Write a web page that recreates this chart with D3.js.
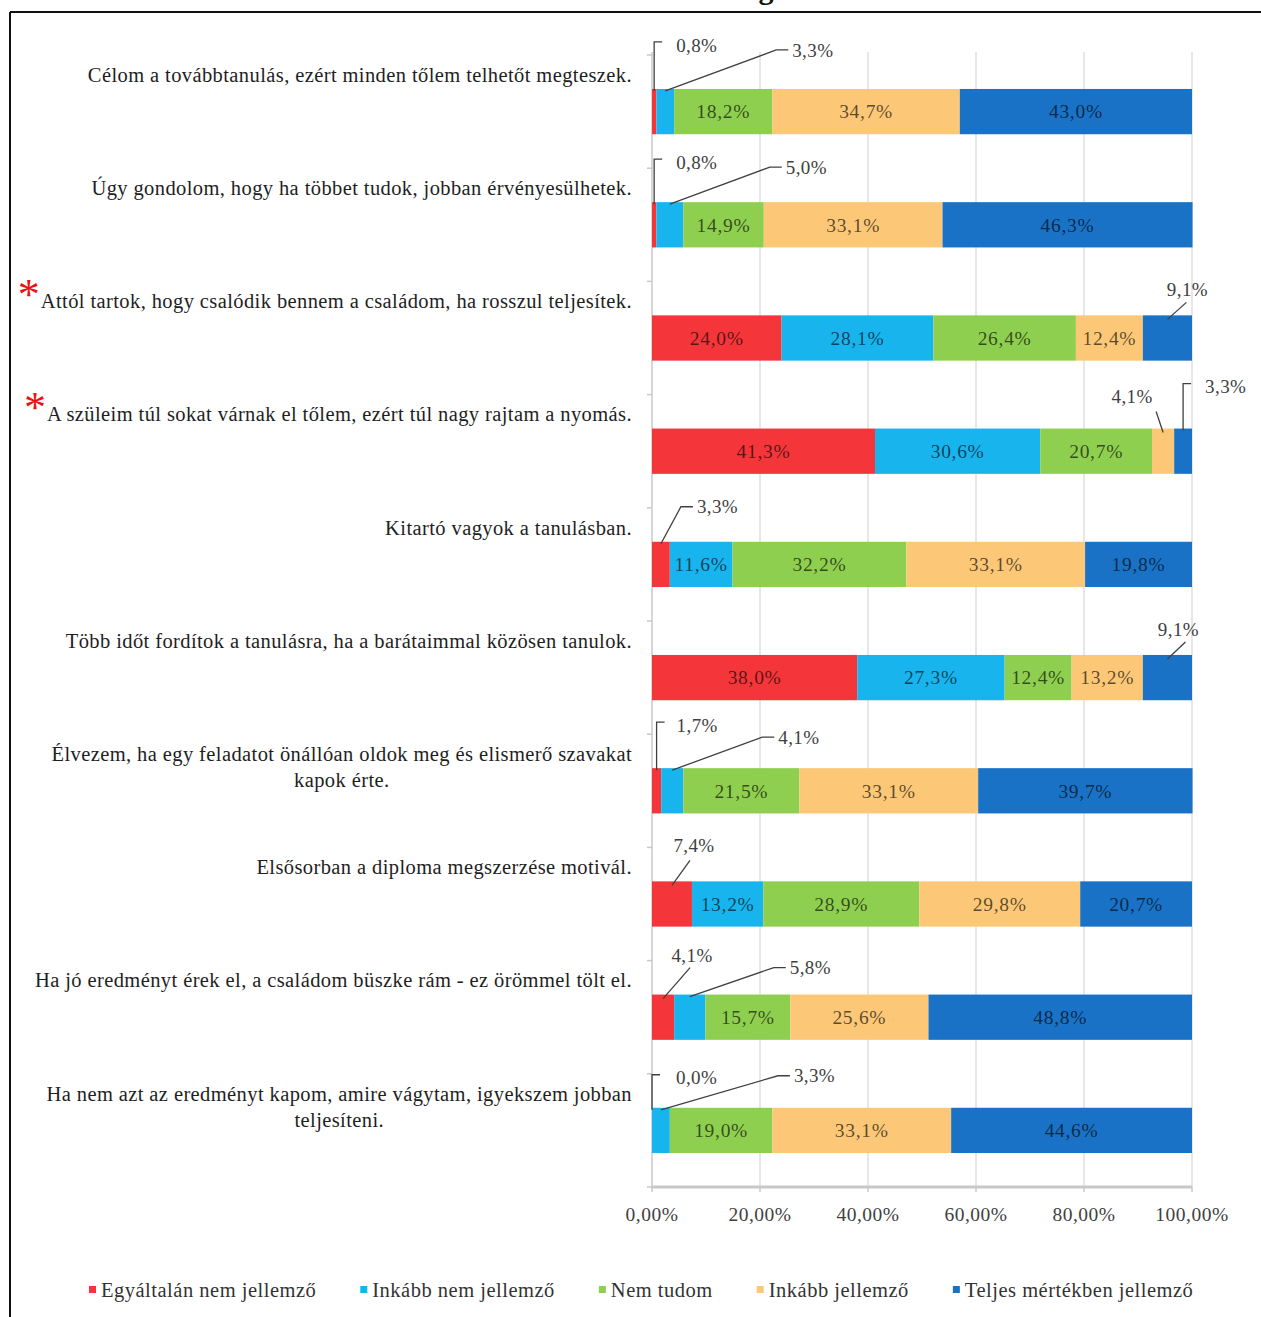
<!DOCTYPE html>
<html>
<head>
<meta charset="utf-8">
<script src="https://cdn.jsdelivr.net/npm/d3@7"></script>
<style>
  body { margin: 0; background: #fff; }
  svg { display: block; font-family: "Liberation Serif", "DejaVu Serif", serif; }
</style>
</head>
<body>
<div id="chart"></div>
<script>
// categories (rows, top to bottom) - "\n" marks a line break
const categories = [
  "Célom a továbbtanulás, ezért minden tőlem telhetőt megteszek.",
  "Úgy gondolom, hogy ha többet tudok, jobban érvényesülhetek.",
  "Attól tartok, hogy csalódik bennem a családom, ha rosszul teljesítek.",
  "A szüleim túl sokat várnak el tőlem, ezért túl nagy rajtam a nyomás.",
  "Kitartó vagyok a tanulásban.",
  "Több időt fordítok a tanulásra, ha a barátaimmal közösen tanulok.",
  "Élvezem, ha egy feladatot önállóan oldok meg és elismerő szavakat\nkapok érte.",
  "Elsősorban a diploma megszerzése motivál.",
  "Ha jó eredményt érek el, a családom büszke rám - ez örömmel tölt el.",
  "Ha nem azt az eredményt kapom, amire vágytam, igyekszem jobban\nteljesíteni."
];
const starred = [2, 3];

const seriesNames = ["Egyáltalán nem jellemző", "Inkább nem jellemző", "Nem tudom", "Inkább jellemző", "Teljes mértékben jellemző"];
const egyaltalan = [0.8, 0.8, 24.0, 41.3, 3.3, 38.0, 1.7, 7.4, 4.1, 0.0];
const inkabbNem  = [3.3, 5.0, 28.1, 30.6, 11.6, 27.3, 4.1, 13.2, 5.8, 3.3];
const nemTudom   = [18.2, 14.9, 26.4, 20.7, 32.2, 12.4, 21.5, 28.9, 15.7, 19.0];
const inkabb     = [34.7, 33.1, 12.4, 4.1, 33.1, 13.2, 33.1, 29.8, 25.6, 33.1];
const teljes     = [43.0, 46.3, 9.1, 3.3, 19.8, 9.1, 39.7, 20.7, 48.8, 44.6];
const xTicks = [0, 20, 40, 60, 80, 100];

const colors = ["#f4363b", "#18b4ee", "#8fcf4f", "#fcc877", "#1a72c6"];

// where the small-value labels sit (in the order they appear), relative to segment top-centre
const calloutLayout = [
  {type: "corner", dx: 22, dy: -44},
  {type: "diag", dx: 127, dy: -39},
  {type: "corner", dx: 22, dy: -40},
  {type: "diag", dx: 116, dy: -35},
  {type: "straight", dx: 20, dy: -26, ex: -1, ey: 13},
  {type: "straight", dx: -31, dy: -32, ex: 24, ey: 15},
  {type: "corner", dx: 22, dy: -42},
  {type: "diag", dx: 36, dy: -35},
  {type: "straight", dx: 11, dy: -26, ex: 7, ey: 13},
  {type: "corner", dx: 20, dy: -43},
  {type: "diag", dx: 106, dy: -31},
  {type: "straight", dx: 22, dy: -36, ex: -4, ey: 15},
  {type: "straight", dx: 29, dy: -39, ex: -2, ey: 12},
  {type: "diag", dx: 100, dy: -27},
  {type: "corner", dx: 24, dy: -30},
  {type: "diag", dx: 133, dy: -32}
];

const width = 1261, height = 1317;
const plot = {left: 652, right: 1192, top: 55, bottom: 1187};

const svg = d3.select("#chart").append("svg")
  .attr("width", width)
  .attr("height", height);

const loc = d3.formatLocale({decimal: ",", thousands: " ", grouping: [3], currency: ["", ""]});
const fmt1 = loc.format(".1f");
const fmt2 = loc.format(".2f");

const table = categories.map((c, i) => ({
  cat: c, i: i,
  s0: egyaltalan[i], s1: inkabbNem[i], s2: nemTudom[i], s3: inkabb[i], s4: teljes[i]
}));
const keys = ["s0", "s1", "s2", "s3", "s4"];
const stacked = d3.stack().keys(keys)(table);

const x = d3.scaleLinear().domain([0, 100]).range([plot.left, plot.right]);
const y = d3.scaleBand().domain(d3.range(categories.length)).range([plot.top, plot.bottom]).paddingInner(0.6).paddingOuter(0.3);
const yb = d3.scaleBand().domain(d3.range(categories.length)).range([plot.top, plot.bottom]);

// frame + cut-off title
svg.append("line").attr("x1", 10).attr("x2", width).attr("y1", 12).attr("y2", 12)
  .attr("stroke", "#111").attr("stroke-width", 2);
svg.append("line").attr("x1", 10).attr("x2", 10).attr("y1", 12).attr("y2", height)
  .attr("stroke", "#111").attr("stroke-width", 2);
svg.append("text").attr("x", 766).attr("y", -1).attr("text-anchor", "middle")
  .attr("font-size", 30).attr("font-weight", "bold").attr("fill", "#111").text("g");

// gridlines
svg.append("g").selectAll("line").data(xTicks.slice(1)).join("line")
  .attr("x1", d => x(d)).attr("x2", d => x(d))
  .attr("y1", plot.top - 3).attr("y2", plot.bottom)
  .attr("stroke", "#dadada").attr("stroke-width", 1.3);

// y axis line + ticks at band boundaries
svg.append("line").attr("x1", plot.left).attr("x2", plot.left)
  .attr("y1", plot.top - 3).attr("y2", plot.bottom)
  .attr("stroke", "#c8c8c8").attr("stroke-width", 1.5);
svg.append("g").selectAll("line").data(d3.range(categories.length + 1)).join("line")
  .attr("x1", plot.left - 5).attr("x2", plot.left)
  .attr("y1", d => plot.top + d * yb.bandwidth()).attr("y2", d => plot.top + d * yb.bandwidth())
  .attr("stroke", "#c8c8c8").attr("stroke-width", 1.5);

// bars
const layers = svg.append("g").selectAll("g").data(stacked).join("g")
  .attr("fill", (d, i) => colors[i]);
layers.selectAll("rect").data(d => d).join("rect")
  .attr("x", d => x(d[0]))
  .attr("width", d => Math.max(0, x(d[1]) - x(d[0])))
  .attr("y", d => y(d.data.i))
  .attr("height", y.bandwidth());

// x axis
svg.append("line").attr("x1", plot.left).attr("x2", plot.right)
  .attr("y1", plot.bottom).attr("y2", plot.bottom)
  .attr("stroke", "#c8c8c8").attr("stroke-width", 3);
svg.append("g").selectAll("line").data(xTicks).join("line")
  .attr("x1", d => x(d)).attr("x2", d => x(d))
  .attr("y1", plot.bottom).attr("y2", plot.bottom + 5)
  .attr("stroke", "#c8c8c8").attr("stroke-width", 1.5);
svg.append("g").selectAll("text").data(xTicks).join("text")
  .attr("x", d => x(d)).attr("y", plot.bottom + 34)
  .attr("text-anchor", "middle").attr("font-size", 19.5).attr("letter-spacing", 0.5)
  .attr("fill", "#404040")
  .text(d => fmt2(d) + "%");

// inside labels
table.forEach((row, ri) => {
  keys.forEach((k, si) => {
    const seg = stacked[si][ri];
    const v = row[k];
    if (v < 10) return;
    svg.append("text")
      .attr("x", x((seg[0] + seg[1]) / 2)).attr("y", y(ri) + y.bandwidth() / 2).attr("dy", "0.35em")
      .attr("text-anchor", "middle").attr("font-size", 19.5).attr("letter-spacing", 0.7)
      .attr("fill", "#000").attr("fill-opacity", 0.65)
      .text(fmt1(v) + "%");
  });
});

// small values get an outside label with a leader line
const calloutG = svg.append("g");
let ci = 0;
table.forEach((row, ri) => {
  keys.forEach((k, si) => {
    const v = row[k];
    if (v >= 10) return;
    const L = calloutLayout[ci++];
    if (!L) return;
    const seg = stacked[si][ri];
    const cx = x((seg[0] + seg[1]) / 2);
    const top = y(ri);
    const lx = cx + L.dx, ly = top + L.dy;
    let path, anchor = "start";
    if (L.type === "corner") {
      path = `M${cx},${top + 2}V${ly - 3}H${cx + 8}`;
    } else if (L.type === "diag") {
      path = `M${cx},${top + 2}L${lx - 16},${ly}H${lx - 4}`;
    } else {
      anchor = "middle";
      path = `M${cx},${top + 4}L${lx + L.ex},${ly + L.ey}`;
    }
    calloutG.append("path").attr("d", path).attr("fill", "none")
      .attr("stroke", "#404040").attr("stroke-width", 1.3);
    calloutG.append("text").attr("x", lx).attr("y", ly).attr("dy", "0.35em")
      .attr("text-anchor", anchor).attr("font-size", 19).attr("letter-spacing", 0.4)
      .attr("fill", "#404040")
      .text(fmt1(v) + "%");
  });
});

// category labels
const labelRight = 632;
categories.forEach((c, i) => {
  const lines = c.split("\n");
  const cy = yb(i) + yb.bandwidth() / 2 - 37;
  const first = svg.append("text").attr("x", labelRight).attr("y", cy).attr("dy", "0.35em")
    .attr("text-anchor", "end").attr("font-size", 20.5).attr("letter-spacing", 0.4)
    .attr("fill", "#1e1e1e")
    .text(lines[0]);
  const w = first.node().getComputedTextLength();
  lines.slice(1).forEach((ln, j) => {
    svg.append("text").attr("x", labelRight - w / 2).attr("y", cy + 26 * (j + 1)).attr("dy", "0.35em")
      .attr("text-anchor", "middle").attr("font-size", 20.5).attr("letter-spacing", 0.4)
      .attr("fill", "#1e1e1e")
      .text(ln);
  });
  if (starred.includes(i)) {
    svg.append("text").attr("x", labelRight - w - 12).attr("y", cy + 8)
      .attr("text-anchor", "middle").attr("font-size", 44).attr("fill", "#ee1111")
      .text("*");
  }
});

// legend
const legend = svg.append("g");
let lxPos = 89;
seriesNames.forEach((n, i) => {
  legend.append("rect").attr("x", lxPos).attr("y", 1286).attr("width", 7).attr("height", 7)
    .attr("fill", colors[i]);
  const t = legend.append("text").attr("x", lxPos + 12).attr("y", 1290).attr("dy", "0.35em")
    .attr("font-size", 20.5).attr("letter-spacing", 0.5).attr("fill", "#333").text(n);
  lxPos += 12 + t.node().getComputedTextLength() + 44;
});
</script>
</body>
</html>
